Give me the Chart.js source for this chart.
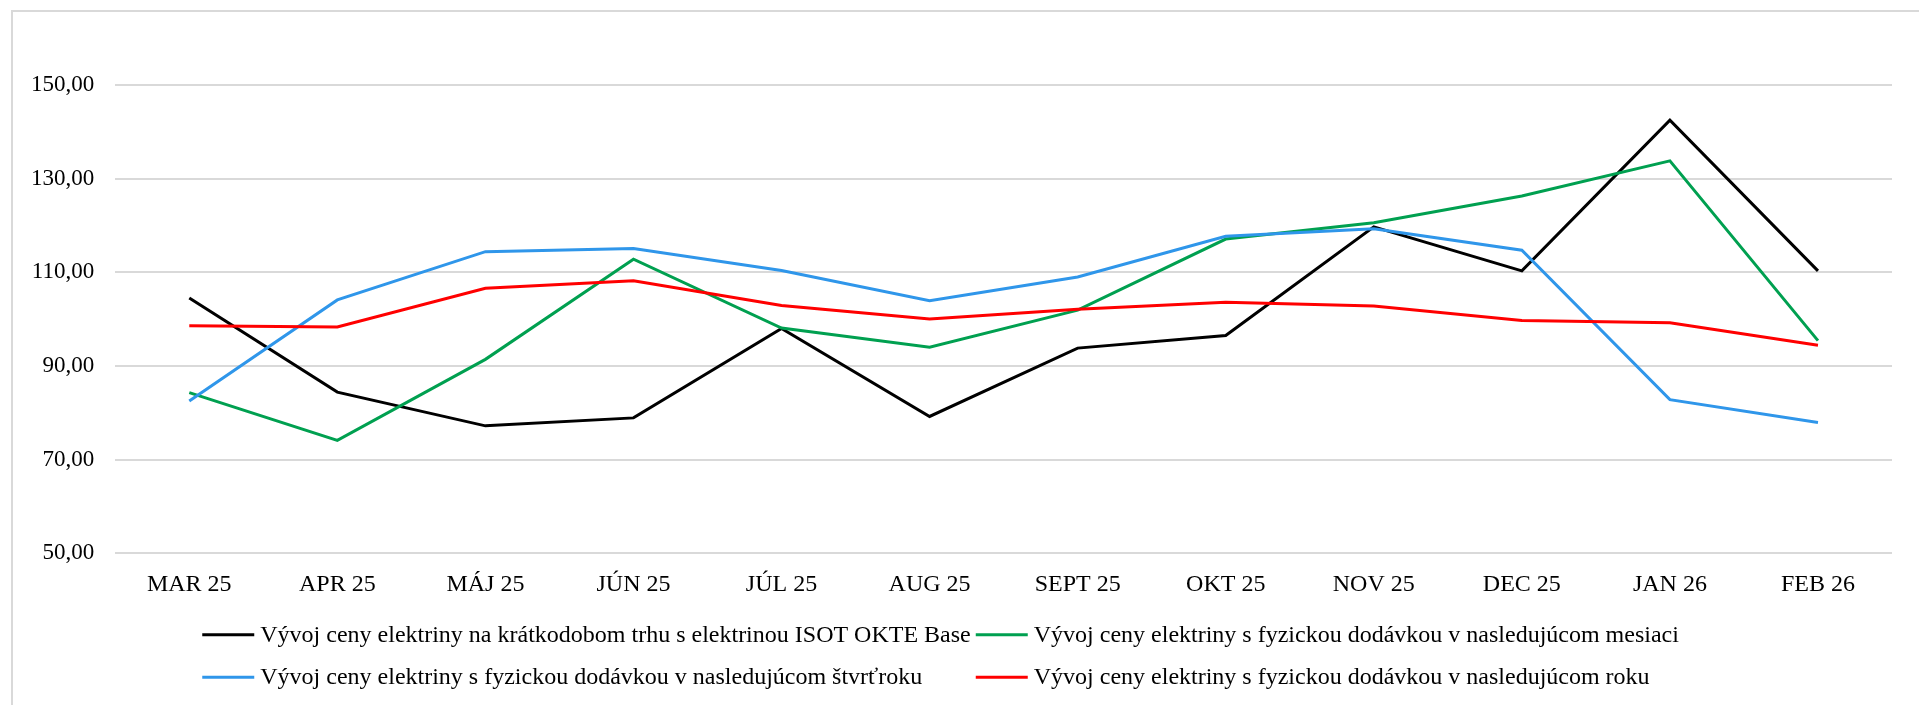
<!DOCTYPE html>
<html>
<head>
<meta charset="utf-8">
<script src="https://cdn.jsdelivr.net/npm/chart.js@4"></script>
<style>
  html, body { margin: 0; padding: 0; background: #fff; overflow: hidden; }
  #wrap { position: relative; width: 1919px; height: 705px; }
  #frame { position: absolute; left: 11px; top: 10px; width: 2000px; height: 800px; border: 2px solid #d9d9d9; }
  #chart { position: absolute; left: 0; top: 0; }
</style>
</head>
<body>
<div id="wrap">
  <div id="frame"></div>
  <canvas id="chart" width="1919" height="705"></canvas>
</div>
<script>
// Months on the x axis
const months = ['MAR 25', 'APR 25', 'MÁJ 25', 'JÚN 25', 'JÚL 25', 'AUG 25',
                'SEPT 25', 'OKT 25', 'NOV 25', 'DEC 25', 'JAN 26', 'FEB 26'];

// Series names (legend)
const seriesNames = [
    'Vývoj ceny elektriny na krátkodobom trhu s elektrinou ISOT OKTE Base',
    'Vývoj ceny elektriny s fyzickou dodávkou v nasledujúcom mesiaci',
    'Vývoj ceny elektriny s fyzickou dodávkou v nasledujúcom štvrťroku',
    'Vývoj ceny elektriny s fyzickou dodávkou v nasledujúcom roku'
];

// Values
const isotBase    = [104.5, 84.4, 77.2, 78.9, 98.0, 79.2, 93.8, 96.5, 119.7, 110.3, 142.5, 110.3];
const nextMonth   = [84.3, 74.1, 91.4, 112.8, 98.1, 94.0, 101.9, 117.1, 120.6, 126.3, 133.8, 95.4];
const nextQuarter = [82.5, 104.1, 114.4, 115.1, 110.4, 103.9, 109.0, 117.7, 119.3, 114.7, 82.8, 77.9];
const nextYear    = [98.6, 98.3, 106.6, 108.2, 102.9, 100.0, 102.1, 103.6, 102.8, 99.7, 99.2, 94.4];

// Y axis range
const yMin = 50;
const yMax = 150;
const yStep = 20;

const seriesColors = ['#000000', '#00a050', '#2f96ea', '#ff0000'];

const FONT_FAMILY = '"Liberation Serif", "Times New Roman", serif';

// Legend laid out in two aligned columns, like the Excel original
const columnLegend = {
    id: 'columnLegend',
    afterDraw(chart) {
        const ctx = chart.ctx;
        const area = chart.chartArea;
        const sets = chart.data.datasets;
        ctx.save();
        ctx.font = '24px ' + FONT_FAMILY;
        ctx.textBaseline = 'middle';
        ctx.textAlign = 'left';
        const widths = sets.map(d => ctx.measureText(d.label).width);
        const lineLen = 52, textGap = 6, colGap = 5;
        const x0 = area.left + 87;
        const x1 = x0 + lineLen + textGap + Math.max(widths[0], widths[2]) + colGap;
        const colX = [x0, x1];
        const rowY = [area.bottom + 81.5, area.bottom + 124];
        sets.forEach((d, i) => {
            const x = colX[i % 2];
            const y = rowY[Math.floor(i / 2)];
            ctx.strokeStyle = d.borderColor;
            ctx.lineWidth = 3;
            ctx.beginPath();
            ctx.moveTo(x, y);
            ctx.lineTo(x + lineLen, y);
            ctx.stroke();
            ctx.fillStyle = '#000';
            ctx.fillText(d.label, x + lineLen + textGap, y + 1);
        });
        ctx.restore();
    }
};

const seriesData = [isotBase, nextMonth, nextQuarter, nextYear];

const ctx = document.getElementById('chart').getContext('2d');
new Chart(ctx, {
    type: 'line',
    data: {
        labels: months,
        datasets: seriesData.map((values, i) => ({
            label: seriesNames[i],
            data: values,
            borderColor: seriesColors[i],
            backgroundColor: seriesColors[i],
            borderWidth: 3,
            pointRadius: 0,
            tension: 0,
            fill: false,
            // later series drawn on top, as in Excel
            order: seriesData.length - i
        }))
    },
    options: {
        responsive: false,
        animation: false,
        devicePixelRatio: 1,
        layout: {
            padding: { left: 10, right: 27, top: 85, bottom: 89 }
        },
        plugins: {
            legend: { display: false },
            tooltip: { enabled: false }
        },
        scales: {
            x: {
                offset: true,
                grid: { display: false, drawTicks: false },
                border: { display: false },
                ticks: {
                    color: '#000',
                    font: { family: FONT_FAMILY, size: 24 },
                    padding: 17,
                    maxRotation: 0,
                    autoSkip: false
                }
            },
            y: {
                min: yMin,
                max: yMax,
                grid: { color: '#d9d9d9', lineWidth: 2, drawTicks: false },
                border: { display: false },
                ticks: {
                    stepSize: yStep,
                    color: '#000',
                    font: { family: FONT_FAMILY, size: 23 },
                    padding: 21,
                    callback: v => v.toFixed(2).replace('.', ',')
                }
            }
        }
    },
    plugins: [columnLegend]
});
</script>
</body>
</html>
